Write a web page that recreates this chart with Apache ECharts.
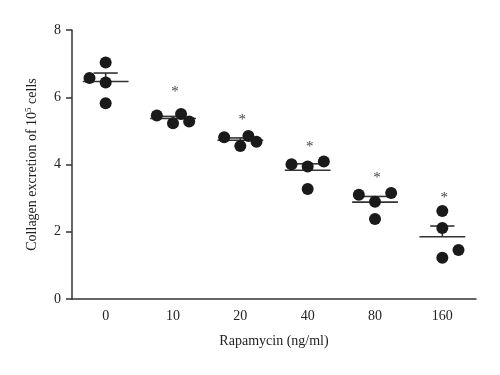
<!DOCTYPE html>
<html>
<head>
<meta charset="utf-8">
<script src="https://cdn.jsdelivr.net/npm/echarts@6/dist/echarts.min.js"></script>
<style>
html,body{margin:0;padding:0;background:#fff;}
#chart{width:500px;height:375px;}
</style>
</head>
<body>
<div id="chart"></div>
<script>
// groups on the x axis
var doses = ["0", "10", "20", "40", "80", "160"];

// single measurements: [group index, sideways offset (in category widths), value]
var points = [
	[0, -0.24, 6.57], [0, 0, 7.03], [0, 0, 6.44], [0, 0, 5.82],
	[1, -0.24, 5.46], [1, 0, 5.23], [1, 0.12, 5.50], [1, 0.24, 5.28],
	[2, -0.24, 4.81], [2, 0, 4.55], [2, 0.12, 4.85], [2, 0.24, 4.68],
	[3, -0.24, 4.01], [3, 0, 3.94], [3, 0.24, 4.09], [3, 0, 3.27],
	[4, -0.24, 3.10], [4, 0, 2.89], [4, 0.24, 3.15], [4, 0, 2.38],
	[5, 0, 2.62], [5, 0, 2.11], [5, 0.24, 1.46], [5, 0, 1.23]
];

// mean line and upper SEM bar
var means = [6.47, 5.37, 4.72, 3.83, 2.88, 1.85];
var semTops = [6.72, 5.43, 4.79, 4.02, 3.05, 2.17];

// significance stars (none for the control)
var starGroups = [1, 2, 3, 4, 5];
var starValues = [6.24, 5.41, 4.60, 3.69, 3.10];

var yTicks = [0, 8, 2];   // min, max, interval

var serif = "'Liberation Serif', 'DejaVu Serif', serif";
var ink = "#222";

var dotData = [];
for (var i = 0; i < points.length; i++) {
	dotData.push([points[i][0] + points[i][1], points[i][2]]);
}
var meanData = [];
for (var i = 0; i < means.length; i++) {
	meanData.push([i, means[i], semTops[i]]);
}
var starData = [];
for (var i = 0; i < starGroups.length; i++) {
	starData.push([starGroups[i] + 0.03, starValues[i]]);
}

function renderMean(params, api) {
	var x = api.value(0), m = api.value(1), t = api.value(2);
	var a = api.coord([x - 0.34, m]), b = api.coord([x + 0.34, m]);
	var c = api.coord([x - 0.18, t]), d = api.coord([x + 0.18, t]);
	var e = api.coord([x, m]), f = api.coord([x, t]);
	var st = {stroke: "#333", lineWidth: 1.6};
	return {
		type: "group",
		children: [
			{type: "line", shape: {x1: a[0], y1: a[1], x2: b[0], y2: b[1]}, style: st},
			{type: "line", shape: {x1: c[0], y1: c[1], x2: d[0], y2: d[1]}, style: st},
			{type: "line", shape: {x1: e[0], y1: e[1], x2: f[0], y2: f[1]}, style: st}
		]
	};
}

function renderStar(params, api) {
	var p = api.coord([api.value(0), api.value(1)]);
	return {
		type: "text",
		x: p[0],
		y: p[1] + 3,
		style: {
			text: "*",
			fontFamily: serif,
			fontSize: 15,
			fill: "#444",
			align: "center",
			verticalAlign: "middle"
		}
	};
}

var mychart = echarts.init(document.getElementById("chart"));
var option = {
	animation: false,
	grid: {left: 72, right: 24, top: 30, bottom: 76},
	xAxis: [
		{
			type: "category",
			data: doses,
			boundaryGap: true,
			name: "Rapamycin (ng/ml)",
			nameLocation: "middle",
			nameGap: 35,
			nameTextStyle: {fontFamily: serif, fontSize: 14, color: ink},
			axisLine: {lineStyle: {color: "#333", width: 1.5}},
			axisTick: {alignWithLabel: true, length: 5, lineStyle: {color: "#333", width: 1.5}},
			axisLabel: {fontFamily: serif, fontSize: 14, color: ink, margin: 10}
		},
		{type: "value", min: -0.5, max: 5.5, show: false}
	],
	yAxis: {
		type: "value",
		min: yTicks[0],
		max: yTicks[1],
		interval: yTicks[2],
		name: "{a|Collagen excretion of 10}{s|5}{a| cells}",
		nameLocation: "middle",
		nameGap: 32,
		nameTextStyle: {
			fontFamily: serif, fontSize: 14, color: ink,
			rich: {
				a: {fontFamily: serif, fontSize: 14, color: ink, lineHeight: 16},
				s: {fontFamily: serif, fontSize: 9, color: ink, verticalAlign: "top", lineHeight: 16}
			}
		},
		axisLine: {show: true, onZero: false, lineStyle: {color: "#333", width: 1.5}},
		axisTick: {show: true, length: 6, lineStyle: {color: "#333", width: 1.5}},
		axisLabel: {fontFamily: serif, fontSize: 14, color: ink, margin: 11},
		splitLine: {show: false}
	},
	series: [
		{
			type: "custom",
			xAxisIndex: 1,
			renderItem: renderMean,
			data: meanData,
			z: 2
		},
		{
			type: "scatter",
			xAxisIndex: 1,
			symbol: "circle",
			symbolSize: 12,
			itemStyle: {color: "#1a1a1a", opacity: 1},
			data: dotData,
			z: 3
		},
		{
			type: "custom",
			xAxisIndex: 1,
			renderItem: renderStar,
			data: starData,
			z: 4
		}
	]
};
mychart.setOption(option);
</script>
</body>
</html>
